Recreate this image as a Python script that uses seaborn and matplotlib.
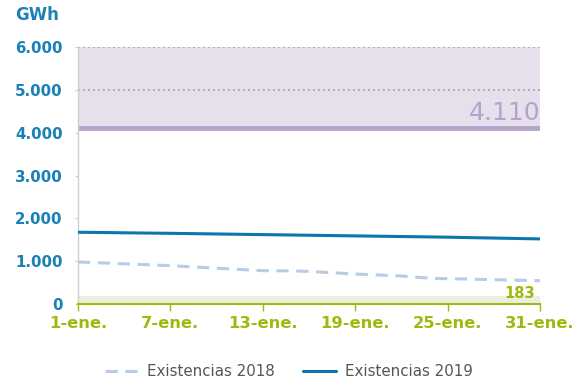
import matplotlib
matplotlib.use("Agg")
import matplotlib.pyplot as plt
import numpy as np
import pandas as pd
import seaborn as sns
from matplotlib.ticker import FuncFormatter

sns.set_theme(style="white")
plt.rcParams["font.family"] = ["DejaVu Sans"]

# Daily stocks (GWh), 1 to 31 January
days = list(range(1, 32))
stock_2018 = [981, 967, 953, 938, 924, 909, 895, 876, 856, 836, 817, 797, 778,
              775, 772, 760, 740, 720, 700, 685, 670, 654, 625, 598, 591,
              584, 576, 568, 560, 552, 544]
stock_2019 = [1675, 1671, 1667, 1662, 1658, 1654, 1650, 1645, 1640, 1635, 1630, 1625, 1620,
              1615, 1610, 1605, 1600, 1595, 1590, 1585, 1580, 1575, 1570, 1565, 1560,
              1553, 1546, 1540, 1533, 1526, 1520]
series_names = ["Existencias 2018", "Existencias 2019"]

# Reference levels
max_level = 6000
upper_ref = 4110
lower_ref = 183

x_ticks = [1, 7, 13, 19, 25, 31]
x_labels = ["1-ene.", "7-ene.", "13-ene.", "19-ene.", "25-ene.", "31-ene."]
y_ticks = [0, 1000, 2000, 3000, 4000, 5000, 6000]

blue = "#0a77ad"
light_blue = "#b7cce6"
green = "#9dbb0e"
purple = "#b6a3cc"
label_blue = "#1c80b8"

df = pd.DataFrame({
    "day": days * 2,
    "value": stock_2018 + stock_2019,
    "series": [series_names[0]] * len(days) + [series_names[1]] * len(days),
})

fig = plt.figure(figsize=(5.77, 3.80), dpi=100)
ax = fig.add_axes([78 / 577, 1 - 304 / 380, (540 - 78) / 577, (304 - 47) / 380])

# Shaded bands
ax.axhspan(upper_ref, max_level, color="#e5e0ec", zorder=0, lw=0)
ax.axhspan(0, lower_ref, color="#ecefe0", zorder=0, lw=0)
for lvl in (5000, 6000):
    ax.axhline(lvl, color="#9a9a9a", ls=(0, (1, 2)), lw=1.2, zorder=1)
ax.axhline(upper_ref, color=purple, lw=3.5, zorder=2)

sns.lineplot(data=df, x="day", y="value", hue="series", style="series",
             palette={series_names[0]: light_blue, series_names[1]: blue},
             dashes={series_names[0]: (4, 2.5), series_names[1]: ""},
             linewidth=2.2, ax=ax, zorder=3)

ax.text(31, upper_ref + 80, f"{upper_ref:,}".replace(",", "."),
        ha="right", va="bottom", fontsize=18, color=purple, zorder=4)
ax.text(30.7, 150, str(lower_ref), ha="right", va="baseline",
        fontsize=10.5, fontweight="bold", color=green, zorder=4)

ax.set_xlim(1, 31)
ax.set_ylim(0, max_level)
ax.set_xticks(x_ticks)
ax.set_xticklabels(x_labels)
ax.set_yticks(y_ticks)
ax.yaxis.set_major_formatter(FuncFormatter(lambda v, p: f"{int(v):,}".replace(",", ".")))
ax.set_xlabel("")
ax.set_ylabel("")

for lab in ax.get_yticklabels():
    lab.set_fontweight("bold")
    lab.set_color(label_blue)
    lab.set_fontsize(10.8)
for lab in ax.get_xticklabels():
    lab.set_fontweight("bold")
    lab.set_color(green)
    lab.set_fontsize(11.8)

ax.tick_params(axis="x", direction="out", length=5, width=1, color=green, pad=4, bottom=True)
ax.tick_params(axis="y", length=2, width=0.8, color="#cccccc", pad=9, left=True)

for s in ("top", "right"):
    ax.spines[s].set_visible(False)
ax.spines["left"].set_color("#d0d0d0")
ax.spines["left"].set_linewidth(1)
ax.spines["bottom"].set_color(green)
ax.spines["bottom"].set_linewidth(1.5)
ax.spines["bottom"].set_zorder(5)

fig.text(15 / 577, 1 - 15 / 380, "GWh", ha="left", va="center",
         fontsize=12, fontweight="bold", color=label_blue)

handles, labels = ax.get_legend_handles_labels()
ax.get_legend().remove()
fig.legend(handles, labels, loc="center", bbox_to_anchor=(289 / 577, 1 - 372 / 380),
           ncol=2, frameon=False, fontsize=10.8, handlelength=2.2,
           handletextpad=0.6, columnspacing=1.9, labelcolor="#555555")

fig.savefig("out.png", dpi=100)
